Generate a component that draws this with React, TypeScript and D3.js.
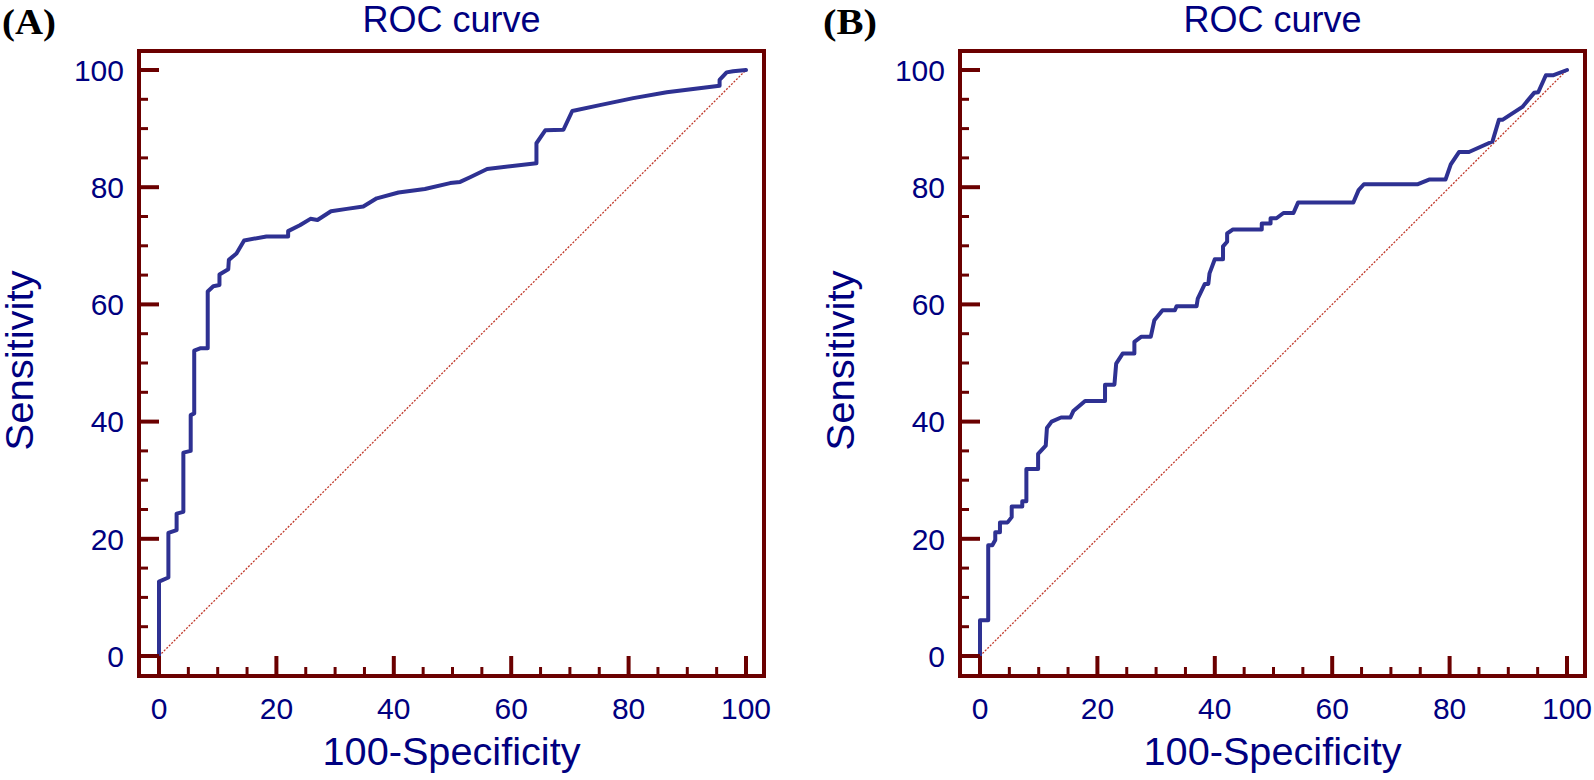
import React from "react";
import * as d3 from "d3";

// ---- Data ----
const fprA = [0, 0, 1.6, 1.6, 3.0, 3.0, 4.15, 4.15, 5.4, 5.4, 6.0, 6.0, 7.0, 8.3, 8.3, 9.25, 10.3, 10.3, 11.8, 11.9, 13.2, 14.5, 18.3, 22.0, 22.0, 24.0, 25.8, 27.0, 29.3, 32.0, 34.8, 37.1, 40.8, 45.3, 49.6, 51.3, 53.0, 55.9, 64.3, 64.3, 65.8, 68.9, 70.4, 75.1, 80.8, 86.5, 95.5, 95.5, 96.7, 97.8, 100];
const sensA = [0, 12.7, 13.4, 21.0, 21.5, 24.3, 24.6, 34.7, 35.0, 41.1, 41.4, 52.1, 52.5, 52.5, 62.2, 63.1, 63.3, 65.1, 66.0, 67.6, 68.7, 70.9, 71.6, 71.6, 72.5, 73.5, 74.6, 74.4, 75.9, 76.3, 76.7, 78.1, 79.1, 79.7, 80.7, 80.9, 81.7, 83.1, 84.1, 87.5, 89.7, 89.8, 93.0, 94.0, 95.2, 96.2, 97.3, 98.3, 99.6, 99.8, 100];

const fprB = [0, 0, 1.4, 1.4, 2.1, 2.6, 2.6, 3.4, 3.4, 4.7, 5.4, 5.4, 7.2, 7.2, 7.9, 7.9, 9.9, 9.9, 11.2, 11.4, 12.2, 13.8, 15.4, 15.9, 17.9, 21.3, 21.3, 22.9, 23.2, 24.3, 26.3, 26.3, 27.5, 29.1, 29.7, 31.1, 33.2, 33.5, 36.9, 37.1, 38.3, 38.9, 39.1, 40.0, 41.4, 41.4, 42.1, 42.1, 43.1, 48.0, 48.0, 49.5, 49.5, 50.5, 51.7, 53.4, 54.2, 63.6, 64.5, 65.4, 74.5, 76.5, 79.3, 80.2, 81.6, 83.3, 87.3, 88.4, 89.0, 92.4, 94.4, 95.1, 96.4, 97.6, 100];
const sensB = [0, 6.1, 6.1, 18.9, 18.9, 19.8, 21.1, 21.1, 22.8, 22.8, 23.7, 25.5, 25.5, 26.4, 26.4, 31.9, 31.9, 34.5, 35.9, 38.9, 40.0, 40.7, 40.7, 41.8, 43.5, 43.5, 46.3, 46.3, 49.9, 51.6, 51.6, 53.6, 54.5, 54.5, 57.3, 59.0, 59.0, 59.7, 59.7, 61.0, 63.5, 63.5, 65.3, 67.7, 67.7, 69.9, 70.7, 72.1, 72.8, 72.8, 73.8, 73.8, 74.7, 74.7, 75.6, 75.6, 77.4, 77.4, 79.5, 80.5, 80.5, 81.3, 81.3, 83.9, 86.0, 86.0, 87.8, 91.5, 91.5, 93.7, 96.1, 96.2, 99.1, 99.1, 100];

const panelLabels = ["(A)", "(B)"];
const chartTitle = "ROC curve";
const xTitle = "100-Specificity";
const yTitle = "Sensitivity";
const majorTicks = [0, 20, 40, 60, 80, 100];
const minorTicks = [5, 10, 15, 25, 30, 35, 45, 50, 55, 65, 70, 75, 85, 90, 95];

const W = 1594;
const H = 780;
const FRAME = "#6b0000";
const NAVY = "#000080";
const CURVE = "#2e3192";
const FONT = "'Liberation Sans', Arial, sans-serif";

type PanelProps = { left: number; label: string; fpr: number[]; sens: number[] };

function Panel({ left, label, fpr, sens }: PanelProps) {
  const top = 51;
  const right = left + 625;
  const bottom = 676;
  const x = d3.scaleLinear().domain([0, 100]).range([left + 20, left + 607]);
  const y = d3.scaleLinear().domain([0, 100]).range([656, 70]);
  const pts = fpr.map((f, i) => [f, sens[i]] as [number, number]);
  const line = d3
    .line<[number, number]>()
    .x((d) => x(d[0]))
    .y((d) => y(d[1]));
  const cx = (left + right) / 2;
  const cy = (top + bottom) / 2;
  return (
    <g>
      <text x={left - 137} y={34} fontFamily="'Liberation Serif', 'Times New Roman', serif" fontWeight="bold" fontSize={36} textLength={54} lengthAdjust="spacingAndGlyphs" fill="#000">
        {label}
      </text>
      <text x={cx} y={32} textAnchor="middle" fontFamily={FONT} fontSize={36} fill={NAVY}>
        {chartTitle}
      </text>
      {/* diagonal */}
      <line x1={x(0)} y1={y(0)} x2={x(100)} y2={y(100)} stroke="#c0392b" strokeWidth={1.3} strokeDasharray="2 1.5" />
      {/* ROC curve */}
      <path d={line(pts) || ""} fill="none" stroke={CURVE} strokeWidth={4} strokeLinejoin="round" strokeLinecap="round" />
      {/* frame */}
      <rect x={left} y={top} width={right - left} height={bottom - top} fill="none" stroke={FRAME} strokeWidth={4} />
      {/* y ticks */}
      {majorTicks.map((v) => (
        <line key={"ym" + v} x1={left} x2={left + 20} y1={y(v)} y2={y(v)} stroke={FRAME} strokeWidth={4} />
      ))}
      {minorTicks.map((v) => (
        <line key={"yn" + v} x1={left} x2={left + 9} y1={y(v)} y2={y(v)} stroke={FRAME} strokeWidth={3} />
      ))}
      {/* x ticks */}
      {majorTicks.map((v) => (
        <line key={"xm" + v} x1={x(v)} x2={x(v)} y1={bottom} y2={bottom - 20} stroke={FRAME} strokeWidth={4} />
      ))}
      {minorTicks.map((v) => (
        <line key={"xn" + v} x1={x(v)} x2={x(v)} y1={bottom} y2={bottom - 9} stroke={FRAME} strokeWidth={3} />
      ))}
      {/* tick labels */}
      {majorTicks.map((v) => (
        <text key={"yl" + v} x={left - 15} y={y(v) + 10.7} textAnchor="end" fontFamily={FONT} fontSize={30} fill={NAVY}>
          {v}
        </text>
      ))}
      {majorTicks.map((v) => (
        <text key={"xl" + v} x={x(v)} y={bottom + 43} textAnchor="middle" fontFamily={FONT} fontSize={30} fill={NAVY}>
          {v}
        </text>
      ))}
      {/* axis titles */}
      <text x={cx} y={765} textAnchor="middle" fontFamily={FONT} fontSize={38} textLength={258} lengthAdjust="spacingAndGlyphs" fill={NAVY}>
        {xTitle}
      </text>
      <text transform={`translate(${left - 106},${cy - 3}) rotate(-90)`} textAnchor="middle" fontFamily={FONT} fontSize={38} textLength={180} lengthAdjust="spacingAndGlyphs" fill={NAVY}>
        {yTitle}
      </text>
    </g>
  );
}

export default function App() {
  return (
    <svg width={W} height={H} style={{ position: "absolute", left: 0, top: 0, background: "#fff" }}>
      <rect width={W} height={H} fill="#fff" />
      <Panel left={139} label={panelLabels[0]} fpr={fprA} sens={sensA} />
      <Panel left={960} label={panelLabels[1]} fpr={fprB} sens={sensB} />
    </svg>
  );
}
